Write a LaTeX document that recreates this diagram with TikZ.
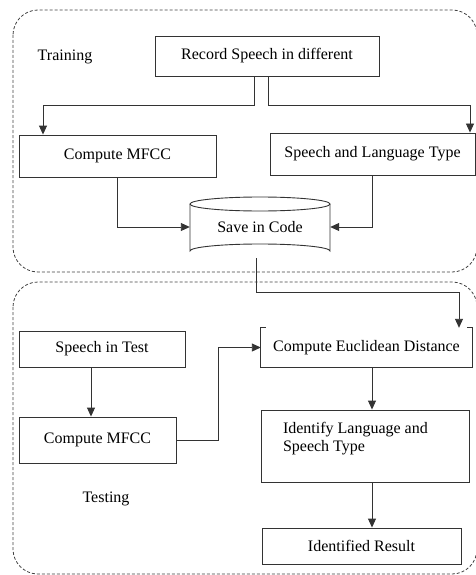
\documentclass[tikz,border=0pt]{standalone}
\usepackage{fontspec}
\setmainfont{Liberation Serif}
\usetikzlibrary{arrows.meta}
\begin{document}
\begin{tikzpicture}[x=1pt,y=-1pt,
  font=\fontsize{16}{18}\selectfont,
  box/.style={draw=black!80, line width=0.9pt, rectangle, inner sep=0pt, align=center},
  region/.style={draw=black!75, line width=0.8pt, dash pattern=on 3pt off 2pt, rounded corners=25pt},
  arr/.style={draw=black!80, line width=0.9pt, -{Triangle[width=8pt,length=9pt]}},
  lbl/.style={inner sep=0pt}]
\useasboundingbox (0,0) rectangle (475,575);
% regions
\draw[region] (13,10) rectangle (477,272);
\draw[region] (13,282) rectangle (477,574);
% training
\node[lbl] (train) at (65,57) {Training};
\node[box, minimum width=224pt, minimum height=40pt] (rec) at (267,56) {Record Speech in different};
\node[box, minimum width=197pt, minimum height=42pt] (mfcc1) at (117.5,156) {Compute MFCC};
\node[box, minimum width=205pt, minimum height=42pt] (slt) at (372.5,154) {Speech and Language Type};
% cylinder
\draw[draw=black!80, line width=0.9pt, fill=white] (190,204) -- (190,251) arc[start angle=180, end angle=360, x radius=70, y radius=7] -- (330,204);
\draw[draw=black!80, line width=0.9pt] (260,204) ellipse[x radius=70, y radius=7];
\node[lbl, minimum width=140pt, minimum height=50pt] (cyl) at (260,227) {\raisebox{-7pt}{Save in Code}};
\coordinate (c1) at (43,105);
\coordinate (c2) at (470,105);
\draw[arr] ([xshift=-13pt]rec.south) |- (c1) -- (c1 |- mfcc1.north);
\draw[arr] ([xshift=1pt]rec.south) |- (c2) -- (c2 |- slt.north);
\draw[arr] (mfcc1.south) |- (cyl.west);
\draw[arr] (slt.south) |- (cyl.east);
% testing
\node[lbl] (test) at (106,499) {Testing};
\node[box, minimum width=166pt, minimum height=36pt] (sit) at (102,349) {Speech in Test};
\node[box, minimum width=157pt, minimum height=46pt] (mfcc2) at (97.5,440) {Compute MFCC};
\node[lbl, minimum width=211pt, minimum height=39pt] (euc) at (366.5,347.5) {Compute Euclidean Distance};
\draw[draw=black!80, line width=0.9pt] ([xshift=5pt]euc.north west) -- (euc.north west) -- (euc.south west) -- (euc.south east) -- (euc.north east) -- ([xshift=-5pt]euc.north east);
\node[box, minimum width=208pt, minimum height=72pt, text width=164pt, inner xsep=22pt, align=flush left] (ident) at (365,446) {Identify Language and\\Speech Type\\\mbox{}};
\node[box, minimum width=199pt, minimum height=36pt] (res) at (361.5,546) {Identified Result};
\coordinate (cb) at (256,258);
\coordinate (c3) at (459,292);
\draw[arr] (cb) |- (c3) -- (c3 |- euc.north);
\draw[arr] ([xshift=-6.5pt]sit.south -| mfcc2.north) -- ([xshift=-6.5pt]mfcc2.north);
\coordinate (c4) at (218,440);
\draw[arr] (mfcc2.east) -- (c4) |- (euc.west);
\draw[arr] ([xshift=5.5pt]euc.south) -- ([xshift=5.5pt]euc.south |- ident.north);
\draw[arr] ([xshift=7pt]ident.south) -- ([xshift=7pt]ident.south |- res.north);
\end{tikzpicture}
\end{document}
